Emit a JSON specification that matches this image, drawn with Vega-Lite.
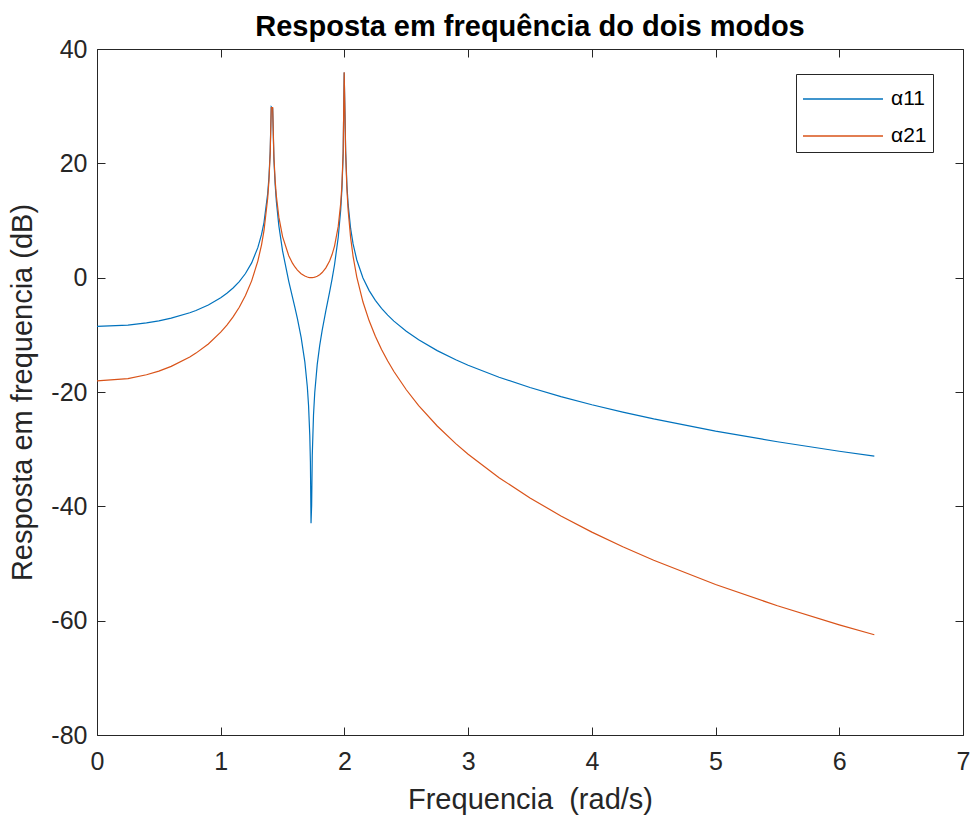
{
  "$schema": "https://vega.github.io/schema/vega-lite/v6.json",
  "width": 866,
  "height": 686,
  "autosize": "none",
  "padding": {"left": 97, "top": 49, "right": 10, "bottom": 84},
  "background": "white",
  "config": {
    "font": "Liberation Sans",
    "view": {"stroke": null},
    "axis": {"grid": false, "domainColor": "#262626", "tickColor": "#262626", "labelColor": "#262626", "titleColor": "#262626", "labelFont": "Liberation Sans", "titleFont": "Liberation Sans", "labelFontSize": 25, "titleFontSize": 29, "titleFontWeight": "normal", "tickSize": -8, "domainWidth": 1, "tickWidth": 1, "labelFlush": false, "labelOverlap": false}
  },
  "title": {"text": "Resposta em frequência do dois modos", "fontSize": 29, "fontWeight": "bold", "color": "#000000", "offset": -5, "font": "Liberation Sans"},
  "data": {"values": [
    {"w":0,"s":"α11","db":-8.52},{"w":0.25,"s":"α11","db":-8.29},{"w":0.4,"s":"α11","db":-7.92},{"w":0.5,"s":"α11","db":-7.55},{"w":0.6,"s":"α11","db":-7.09},{"w":0.75,"s":"α11","db":-6.14},{"w":0.8,"s":"α11","db":-5.74},{"w":0.9,"s":"α11","db":-4.78},{"w":1.0,"s":"α11","db":-3.52},{"w":1.05,"s":"α11","db":-2.74},{"w":1.1,"s":"α11","db":-1.81},{"w":1.15,"s":"α11","db":-0.68},{"w":1.2,"s":"α11","db":0.73},{"w":1.25,"s":"α11","db":2.59},{"w":1.3,"s":"α11","db":5.25},{"w":1.33,"s":"α11","db":7.56},{"w":1.35,"s":"α11","db":9.68},{"w":1.38,"s":"α11","db":14.76},{"w":1.39,"s":"α11","db":17.62},{"w":1.40,"s":"α11","db":22.11},{"w":1.4085,"s":"α11","db":29.9},{"w":1.42,"s":"α11","db":29.61},{"w":1.43,"s":"α11","db":20.73},{"w":1.44,"s":"α11","db":16.30},{"w":1.45,"s":"α11","db":13.28},{"w":1.47,"s":"α11","db":9.05},{"w":1.5,"s":"α11","db":4.68},{"w":1.55,"s":"α11","db":-0.64},{"w":1.58,"s":"α11","db":-3.42},{"w":1.6,"s":"α11","db":-5.26},{"w":1.62,"s":"α11","db":-7.18},{"w":1.65,"s":"α11","db":-10.44},{"w":1.68,"s":"α11","db":-14.73},{"w":1.7,"s":"α11","db":-19.07},{"w":1.71,"s":"α11","db":-22.35},{"w":1.72,"s":"α11","db":-27.60},{"w":1.725,"s":"α11","db":-32.26},{"w":1.73,"s":"α11","db":-42.97},{"w":1.735,"s":"α11","db":-39.81},{"w":1.74,"s":"α11","db":-31.17},{"w":1.75,"s":"α11","db":-24.05},{"w":1.76,"s":"α11","db":-20.13},{"w":1.78,"s":"α11","db":-15.22},{"w":1.8,"s":"α11","db":-11.88},{"w":1.82,"s":"α11","db":-9.21},{"w":1.85,"s":"α11","db":-5.78},{"w":1.88,"s":"α11","db":-2.52},{"w":1.9,"s":"α11","db":-0.25},{"w":1.92,"s":"α11","db":2.26},{"w":1.95,"s":"α11","db":7.06},{"w":1.97,"s":"α11","db":11.89},{"w":1.98,"s":"α11","db":15.59},{"w":1.99,"s":"α11","db":21.78},{"w":1.998,"s":"α11","db":35.88},{"w":2.005,"s":"α11","db":28.03},{"w":2.01,"s":"α11","db":22.09},{"w":2.02,"s":"α11","db":16.20},{"w":2.03,"s":"α11","db":12.81},{"w":2.05,"s":"α11","db":8.61},{"w":2.07,"s":"α11","db":5.91},{"w":2.1,"s":"α11","db":3.09},{"w":2.15,"s":"α11","db":-0.05},{"w":2.2,"s":"α11","db":-2.26},{"w":2.25,"s":"α11","db":-3.96},{"w":2.3,"s":"α11","db":-5.36},{"w":2.35,"s":"α11","db":-6.55},{"w":2.4,"s":"α11","db":-7.60},{"w":2.5,"s":"α11","db":-9.37},{"w":2.6,"s":"α11","db":-10.87},{"w":2.75,"s":"α11","db":-12.76},{"w":2.9,"s":"α11","db":-14.36},{"w":3,"s":"α11","db":-15.32},{"w":3.25,"s":"α11","db":-17.42},{"w":3.5,"s":"α11","db":-19.22},{"w":3.75,"s":"α11","db":-20.81},{"w":4,"s":"α11","db":-22.23},{"w":4.25,"s":"α11","db":-23.52},{"w":4.5,"s":"α11","db":-24.71},{"w":5,"s":"α11","db":-26.83},{"w":5.5,"s":"α11","db":-28.70},{"w":6,"s":"α11","db":-30.36},{"w":6.2832,"s":"α11","db":-31.23},
    {"w":0,"s":"α21","db":-18.06},{"w":0.25,"s":"α21","db":-17.65},{"w":0.4,"s":"α21","db":-16.98},{"w":0.5,"s":"α21","db":-16.34},{"w":0.6,"s":"α21","db":-15.52},{"w":0.75,"s":"α21","db":-13.88},{"w":0.8,"s":"α21","db":-13.20},{"w":0.9,"s":"α21","db":-11.59},{"w":1.0,"s":"α21","db":-9.54},{"w":1.05,"s":"α21","db":-8.30},{"w":1.1,"s":"α21","db":-6.86},{"w":1.15,"s":"α21","db":-5.17},{"w":1.2,"s":"α21","db":-3.13},{"w":1.25,"s":"α21","db":-0.56},{"w":1.3,"s":"α21","db":2.90},{"w":1.33,"s":"α21","db":5.75},{"w":1.35,"s":"α21","db":8.26},{"w":1.38,"s":"α21","db":13.96},{"w":1.39,"s":"α21","db":17.05},{"w":1.40,"s":"α21","db":21.77},{"w":1.4085,"s":"α21","db":29.76},{"w":1.42,"s":"α21","db":29.75},{"w":1.43,"s":"α21","db":21.13},{"w":1.44,"s":"α21","db":16.97},{"w":1.45,"s":"α21","db":14.22},{"w":1.47,"s":"α21","db":10.58},{"w":1.5,"s":"α21","db":7.18},{"w":1.55,"s":"α21","db":3.84},{"w":1.58,"s":"α21","db":2.54},{"w":1.6,"s":"α21","db":1.87},{"w":1.62,"s":"α21","db":1.32},{"w":1.65,"s":"α21","db":0.70},{"w":1.68,"s":"α21","db":0.28},{"w":1.7,"s":"α21","db":0.11},{"w":1.71,"s":"α21","db":0.05},{"w":1.72,"s":"α21","db":0.015},{"w":1.73,"s":"α21","db":0.0},{"w":1.74,"s":"α21","db":0.007},{"w":1.75,"s":"α21","db":0.03},{"w":1.76,"s":"α21","db":0.08},{"w":1.78,"s":"α21","db":0.25},{"w":1.8,"s":"α21","db":0.52},{"w":1.82,"s":"α21","db":0.89},{"w":1.85,"s":"α21","db":1.71},{"w":1.88,"s":"α21","db":2.92},{"w":1.9,"s":"α21","db":4.04},{"w":1.92,"s":"α21","db":5.53},{"w":1.95,"s":"α21","db":8.97},{"w":1.97,"s":"α21","db":12.99},{"w":1.98,"s":"α21","db":16.31},{"w":1.99,"s":"α21","db":22.14},{"w":1.998,"s":"α21","db":35.95},{"w":2.005,"s":"α21","db":27.86},{"w":2.01,"s":"α21","db":21.74},{"w":2.02,"s":"α21","db":15.53},{"w":2.03,"s":"α21","db":11.82},{"w":2.05,"s":"α21","db":7.01},{"w":2.07,"s":"α21","db":3.73},{"w":2.1,"s":"α21","db":0.10},{"w":2.15,"s":"α21","db":-4.26},{"w":2.2,"s":"α21","db":-7.55},{"w":2.25,"s":"α21","db":-10.25},{"w":2.3,"s":"α21","db":-12.56},{"w":2.35,"s":"α21","db":-14.59},{"w":2.4,"s":"α21","db":-16.41},{"w":2.5,"s":"α21","db":-19.61},{"w":2.6,"s":"α21","db":-22.37},{"w":2.75,"s":"α21","db":-25.94},{"w":2.9,"s":"α21","db":-29.03},{"w":3,"s":"α21","db":-30.88},{"w":3.25,"s":"α21","db":-34.99},{"w":3.5,"s":"α21","db":-38.54},{"w":3.75,"s":"α21","db":-41.68},{"w":4,"s":"α21","db":-44.51},{"w":4.25,"s":"α21","db":-47.08},{"w":4.5,"s":"α21","db":-49.44},{"w":5,"s":"α21","db":-53.68},{"w":5.5,"s":"α21","db":-57.40},{"w":6,"s":"α21","db":-60.73},{"w":6.2832,"s":"α21","db":-62.47}
  ]},
  "layer": [
    {
      "mark": {"type": "line", "strokeWidth": 1.2, "clip": true},
      "encoding": {
        "x": {"field": "w", "type": "quantitative", "scale": {"domain": [0, 7], "nice": false, "zero": false}, "axis": {"title": "Frequencia\u00a0\u00a0(rad/s)", "values": [0,1,2,3,4,5,6,7], "labelPadding": 22, "titlePadding": 11, "labelExpr": "'' + datum.value"}},
        "y": {"field": "db", "type": "quantitative", "scale": {"domain": [-80, 40], "nice": false}, "axis": {"title": "Resposta em frequencia (dB)", "values": [-80,-60,-40,-20,0,20,40], "labelPadding": 18, "titlePadding": 13, "labelExpr": "'' + datum.value"}},
        "color": {"field": "s", "type": "nominal", "scale": {"domain": ["α11", "α21"], "range": ["#0072BD", "#D95319"]},
          "legend": {"title": null, "orient": "none", "legendX": 699, "legendY": 25, "symbolType": "M-1,0L3.444,0", "symbolSize": 1296, "symbolStrokeWidth": 1.3, "labelFontSize": 21, "labelFont": "Liberation Sans", "labelColor": "#000000", "labelOffset": 51, "strokeColor": "#262626", "fillColor": "white", "padding": 6, "rowPadding": 8}
        },
        "detail": {"field": "s"}
      }
    },
    {
      "mark": {"type": "line", "opacity": 0},
      "encoding": {
        "x": {"field": "w", "type": "quantitative", "scale": {"domain": [0, 7], "nice": false, "zero": false}, "axis": {"orient": "top", "title": null, "labels": false, "values": [0,1,2,3,4,5,6,7]}},
        "y": {"field": "db", "type": "quantitative", "scale": {"domain": [-80, 40], "nice": false}, "axis": {"orient": "right", "title": null, "labels": false, "values": [-80,-60,-40,-20,0,20,40]}},
        "detail": {"field": "s"}
      }
    }
  ],
  "resolve": {"axis": {"x": "independent", "y": "independent"}}
}
